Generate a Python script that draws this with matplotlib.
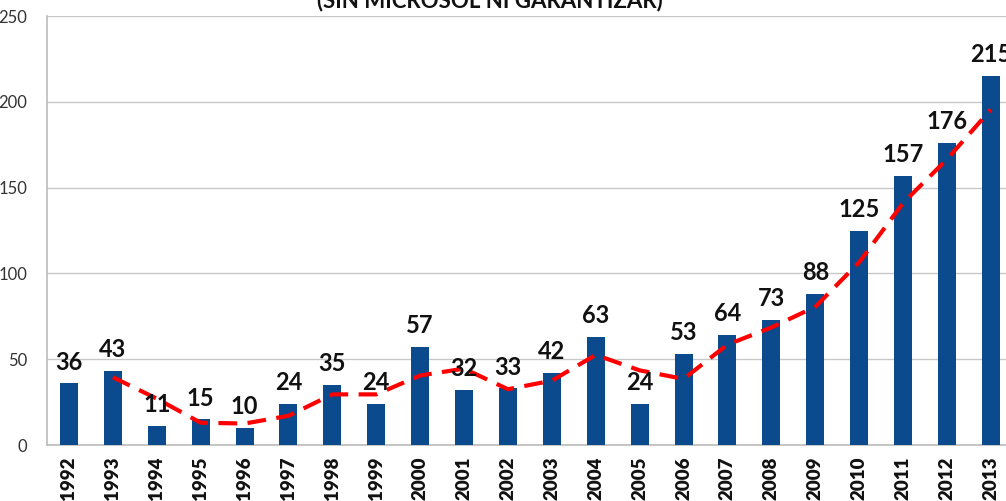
import matplotlib
matplotlib.use("Agg")
import matplotlib.pyplot as plt
import numpy as np

years = [str(y) for y in range(1992, 2014)]
values = [36, 43, 11, 15, 10, 24, 35, 24, 57, 32, 33, 42, 63, 24, 53, 64, 73, 88, 125, 157, 176, 215]
# trend line (2-period moving average as drawn), starting at 1993
trend_years = years[1:]
trend_values = [39.5, 27, 13, 12.5, 17, 29.5, 29.5, 40.5, 44.5, 32.5, 37.5, 52.5, 43.5, 38.5,
                58.5, 68.5, 80.5, 106.5, 141, 166.5, 195.5]
title = "(SIN MICROSOL NI GARANTIZAR)"
yticks = [0, 50, 100, 150, 200, 250]

plt.rcParams['font.family'] = ['Lato', 'DejaVu Sans']

W, H = 1006, 501
fig = plt.figure(figsize=(W / 100, H / 100), dpi=100)
left_px, right_px, top_px, bottom_px = 47, 47 + 22 * 43.9, 16, 445
ax = fig.add_axes([left_px / W, 1 - bottom_px / H, (right_px - left_px) / W, (bottom_px - top_px) / H])

x = np.arange(len(years))
ax.bar(x, values, width=0.41, color='#0B4A8C', zorder=3)
tx = np.arange(1, len(years))
ax.plot(tx, trend_values, color='#FF0000', lw=3, dashes=(4.5, 2.5), zorder=4)

for xi, v in zip(x, values):
    ax.annotate(str(v), (xi, v), xytext=(0, 7), textcoords='offset points',
                ha='center', va='bottom', fontsize=17, fontweight='bold', color='#111111', zorder=5)

ax.set_xlim(-0.5, len(years) - 0.5)
ax.set_ylim(0, 250)
ax.set_yticks(yticks)
ax.set_yticklabels([str(t) for t in yticks], fontsize=12, color='#333333')
ax.set_xticks(x)
ax.set_xticklabels(years, rotation=90, fontsize=13.5, fontweight='heavy', color='#111111')
ax.tick_params(axis='x', length=0, pad=8)
ax.tick_params(axis='y', length=0, pad=14)
ax.grid(axis='y', color='#C8C8C8', lw=1, zorder=0)
for s in ['top', 'right']:
    ax.spines[s].set_visible(False)
for s in ['left', 'bottom']:
    ax.spines[s].set_color('#BBBBBB')
    ax.spines[s].set_linewidth(1.2)

fig.text(490 / W, 1 - 1 / H, title, ha='center', va='center', fontsize=16, fontweight='bold', color='#111111')

fig.savefig("out.png", dpi=100)
